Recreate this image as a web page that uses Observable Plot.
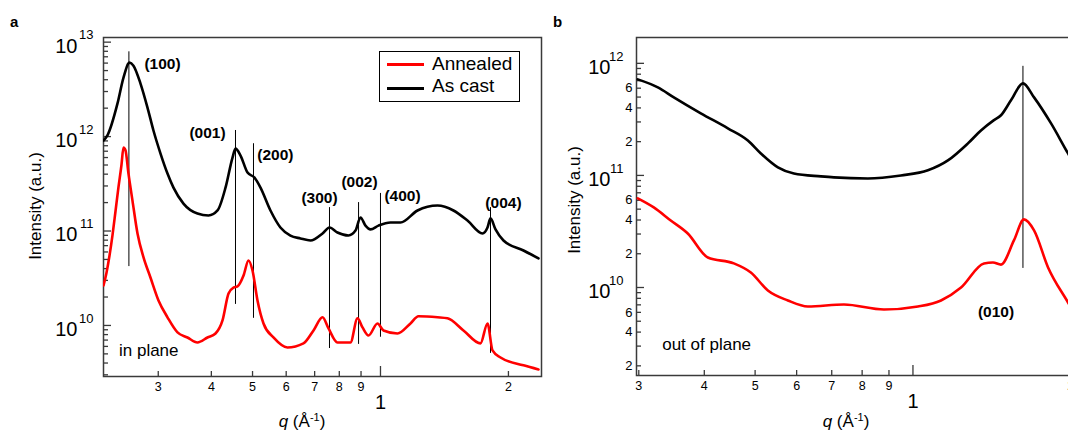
<!DOCTYPE html>
<html><head><meta charset="utf-8">
<script src="https://cdn.jsdelivr.net/npm/d3@7"></script>
<script src="https://cdn.jsdelivr.net/npm/@observablehq/plot@0.6"></script>
<style>
html,body{margin:0;padding:0;background:#fff;overflow:hidden}
#wrap{position:relative;width:1068px;height:433px;overflow:hidden;font-family:"Liberation Sans",Arial,sans-serif;color:#000;background:#fff}
#wrap svg{max-width:none !important}
.abs{position:absolute;white-space:nowrap}
.ylab{font-size:17px;transform:translate(-50%,-50%) rotate(-90deg)}
.xlab{font-size:17px;transform:translate(-50%,-50%)}
.xlab sup{font-size:11px;vertical-align:6px}
</style></head><body>
<div id="wrap">
  <div id="pa" class="abs" style="left:0;top:0;width:560px;height:433px"></div>
  <div id="pb" class="abs" style="left:560px;top:0;width:542px;height:433px"></div>
  <div class="abs" style="left:10px;top:13px;font-weight:bold;font-size:15px">a</div>
  <div class="abs" style="left:553px;top:13px;font-weight:bold;font-size:15px">b</div>
  <div class="abs ylab" style="left:36px;top:206px">Intensity (a.u.)</div>
  <div class="abs ylab" style="left:575px;top:200px">Intensity (a.u.)</div>
  <div class="abs xlab" style="left:302px;top:421px"><i>q</i> (Å<sup>-1</sup>)</div>
  <div class="abs xlab" style="left:846px;top:421px"><i>q</i> (Å<sup>-1</sup>)</div>
  <div class="abs" style="left:379px;top:51px;width:139px;height:49px;border:1px solid #000;background:#fff">
    <div class="abs" style="left:7px;top:11px;width:37px;height:3px;background:#ff0000"></div>
    <div class="abs" style="left:7px;top:35px;width:37px;height:3px;background:#000"></div>
    <div class="abs" id="leg1" style="left:52px;top:2px;font-size:19px;line-height:19px"></div>
    <div class="abs" id="leg2" style="left:52px;top:24px;font-size:19px;line-height:19px"></div>
  </div>
</div>
<script>
// ---------- data: panel a (in plane) ----------
const seriesNames = ["Annealed", "As cast"];
const seriesColors = ["#ff0000", "#000000"];

const asCastInPlaneQ = [0.2230,0.2278,0.2405,0.2485,0.2567,0.2623,0.2725,0.2830,0.2923,0.3037,0.3154,0.3258,0.3439,0.3710,0.3939,0.4136,0.4319,0.4486,0.4559,0.4685,0.4866,0.5053,0.5220,0.5510,0.5815,0.6139,0.6482,0.6844,0.7306,0.7586,0.7920,0.8409,0.8733,0.8974,0.9220,0.9473,0.9892,1.0557,1.1145,1.2221,1.3619,1.4849,1.6020,1.7378,1.7856,1.8150,1.8649,1.9473,2.1703,2.3541];
const asCastInPlaneI = [9.08e11,1.03e12,2.23e12,4.21e12,6.07e12,5.64e12,3.64e12,2.03e12,1.16e12,6.61e11,4.06e11,2.88e11,1.95e11,1.53e11,1.46e11,1.65e11,2.88e11,6.0e11,7.46e11,6.3e11,4.16e11,3.68e11,2.88e11,1.65e11,1.09e11,8.96e10,8.34e10,7.93e10,9.42e10,1.09e11,9.64e10,8.96e10,1.01e11,1.39e11,1.14e11,1.04e11,1.14e11,1.23e11,1.23e11,1.65e11,1.86e11,1.65e11,1.29e11,9.42e10,1.09e11,1.36e11,1.04e11,7.93e10,6.22e10,5.12e10];

const annealedInPlaneQ = [0.2230,0.2266,0.2304,0.2341,0.2379,0.2418,0.2458,0.2485,0.2512,0.2553,0.2609,0.2681,0.2770,0.2876,0.3004,0.3154,0.3330,0.3514,0.3710,0.3917,0.4091,0.4249,0.4390,0.4510,0.4609,0.4762,0.4892,0.4999,0.5136,0.5306,0.5600,0.6040,0.6588,0.6957,0.7306,0.7547,0.7920,0.8500,0.8829,0.9072,0.9371,0.9839,1.0164,1.0965,1.1765,1.2287,1.3619,1.4374,1.5677,1.7189,1.7856,1.8348,1.9159,2.1703,2.3541];
const annealedInPlaneI = [2.65e10,3.6e10,5.5e10,9.0e10,1.6e11,2.9e11,5.0e11,7.66e11,7.16e11,4.06e11,2.10e11,9.42e10,5.25e10,3.22e10,1.84e10,1.22e10,8.44e9,7.46e9,6.61e9,7.46e9,8.22e9,1.13e10,2.18e10,2.52e10,2.59e10,3.38e10,4.88e10,3.82e10,1.84e10,1.05e10,7.46e9,5.85e9,6.46e9,8.85e9,1.22e10,9.29e9,6.61e9,6.61e9,1.19e10,9.53e9,7.83e9,1.05e10,8.85e9,8.22e9,1.05e10,1.25e10,1.22e10,1.19e10,8.85e9,6.46e9,1.05e10,5.44e9,4.58e9,3.78e9,3.42e9];

const peakLabelsA = ["(100)","(001)","(200)","(300)","(002)","(400)","(004)"];
const peakQA      = [0.2559,0.4559,0.5026,0.7586,0.888,1.0,1.815];
const peakLowA    = [4.2e10,1.67e10,1.19e10,5.7e9,6.3e9,7.5e9,5.06e9];
const peakHighA   = [7.9e12,1.16e12,8.4e11,1.77e11,2.0e11,2.5e11,1.77e11];
const labelQA     = [0.307,0.3917,0.566,0.7186,0.8926,1.127,1.947];
const labelIA     = [5.92e12,1.10e12,6.3e11,2.21e11,3.34e11,2.32e11,2.0e11];

// ---------- data: panel b (out of plane) ----------
const asCastOutQ = [0.2987,0.3262,0.3499,0.3939,0.4436,0.4843,0.5128,0.5526,0.5929,0.6675,0.7066,0.8207,0.9486,1.068,1.166,1.273,1.348,1.425,1.472,1.538,1.621,1.702,1.834,1.976,2.093];
const asCastOutI = [7.19e11,6.1e11,4.97e11,3.58e11,2.63e11,2.05e11,1.57e11,1.18e11,1.04e11,9.8e10,9.6e10,9.4e10,1.0e11,1.11e11,1.36e11,1.93e11,2.52e11,3.1e11,3.44e11,4.68e11,6.63e11,4.97e11,2.91e11,1.57e11,1.0e11];

const annealedOutQ = [0.2987,0.3204,0.3452,0.372,0.4063,0.4554,0.4907,0.5288,0.5774,0.6302,0.7386,0.8805,1.022,1.131,1.235,1.366,1.421,1.472,1.558,1.628,1.702,1.81,1.976,2.093];
const annealedOutI = [6.24e10,5.18e10,3.96e10,3.03e10,1.85e10,1.64e10,1.36e10,9.4e9,7.66e9,6.77e9,7.05e9,6.36e9,6.77e9,7.66e9,1.0e10,1.64e10,1.67e10,1.6e10,2.63e10,4.05e10,3.23e10,1.51e10,7.35e9,4.6e9];

const peakLabelsB = ["(010)"];
const peakQB = [1.621], peakLowB = [1.48e10], peakHighB = [9.4e11];
const labelQB = [1.44], labelIB = [5.98e9];

// ---------- axes ----------
const xDomainA = [0.223, 2.3925], yDomainA = [2.88e9, 1.12e13];
const xDomainB = [0.297, 2.2],    yDomainB = [1.64e9, 1.7e12];
const xTicks = [0.3,0.4,0.5,0.6,0.7,0.8,0.9,2];
const xTickLabels = ["3","4","5","6","7","8","9","2"];
const xBigTick = [1], xBigTickLabel = ["1"];
const yMajA = [1e10,1e11,1e12,1e13], yMajB = [1e10,1e11,1e12];
const yMinorLabelMult = [2,4,6];

const font = '"Liberation Sans", Arial, sans-serif';
const toRows = (Q, I) => Q.map((q, i) => ({q, I: I[i]}));
const mant = v => Math.round(v / 10 ** Math.floor(Math.log10(v) + 1e-9));
const minors = (dom) => {
  const out = [];
  for (let d = 8; d <= 13; d++) for (let m = 2; m <= 9; m++) {
    const v = m * 10 ** d; if (v > dom[0] && v < dom[1]) out.push(v);
  }
  return out;
};
const exps = {1e10:"10",1e11:"11",1e12:"12",1e13:"13"};

function axisMarks(yMaj, yDom, minorLabels, bigDx, expDx) {
  const yMin = minors(yDom);
  const marks = [
    Plot.frame({stroke: "#3a3a3a", strokeWidth: 1.5}),
    Plot.axisY(yMaj, {anchor: "left", tickSize: -8, tickFormat: () => "", stroke: "#3a3a3a", strokeWidth: 1.3}),
    Plot.axisY(yMin, {anchor: "left", tickSize: -5, tickFormat: () => "", stroke: "#3a3a3a", strokeWidth: 1.3}),
    Plot.axisX(xTicks, {anchor: "bottom", tickSize: -5, tickFormat: () => "", stroke: "#3a3a3a", strokeWidth: 1.3}),
    Plot.axisX(xBigTick, {anchor: "bottom", tickSize: -10, tickFormat: () => "", stroke: "#3a3a3a", strokeWidth: 1.3}),
    Plot.text(xTicks, {x: d => d, text: (d, i) => xTickLabels[i], frameAnchor: "bottom", lineAnchor: "middle", dy: 10, fontSize: 12.5}),
    Plot.text(xBigTick, {x: d => d, text: (d, i) => xBigTickLabel[i], frameAnchor: "bottom", lineAnchor: "middle", dy: 26, fontSize: 20}),
    Plot.text(yMaj, {y: d => d, text: () => "10", frameAnchor: "left", textAnchor: "end", lineAnchor: "middle", dx: bigDx, dy: 4, fontSize: 20}),
    Plot.text(yMaj, {y: d => d, text: d => exps[d], frameAnchor: "left", textAnchor: "end", lineAnchor: "middle", dx: expDx, dy: -7, fontSize: 13})
  ];
  if (minorLabels) {
    const lab = yMin.filter(v => yMinorLabelMult.includes(mant(v)));
    marks.push(Plot.text(lab, {y: d => d, text: d => String(mant(d)), frameAnchor: "left", textAnchor: "end", lineAnchor: "middle", dx: -4, fontSize: 13}));
  }
  return marks;
}

const plotA = Plot.plot({
  width: 560, height: 433,
  marginLeft: 103, marginRight: 19, marginTop: 37, marginBottom: 57,
  x: {type: "log", domain: xDomainA, label: null},
  y: {type: "log", domain: yDomainA, label: null},
  style: {fontFamily: font, color: "#000", background: "transparent", overflow: "visible"},
  marks: [
    ...axisMarks(yMajA, yDomainA, false, -26, -10),
    Plot.ruleX(peakQA, {x: d => d, y1: (d, i) => peakLowA[i], y2: (d, i) => peakHighA[i], stroke: "#000", strokeWidth: 1}),
    Plot.line(toRows(annealedInPlaneQ, annealedInPlaneI), {x: "q", y: "I", stroke: seriesColors[0], strokeWidth: 2.6, curve: "monotone-x", clip: true}),
    Plot.line(toRows(asCastInPlaneQ, asCastInPlaneI), {x: "q", y: "I", stroke: seriesColors[1], strokeWidth: 2.6, curve: "monotone-x", clip: true}),
    Plot.text(peakLabelsA, {x: (d, i) => labelQA[i], y: (d, i) => labelIA[i], text: d => d, fontWeight: "bold", fontSize: 15.5, textAnchor: "middle", lineAnchor: "middle"}),
    Plot.text(["in plane"], {x: [0.2425], y: [5.4e9], text: d => d, textAnchor: "start", lineAnchor: "middle", fontSize: 17})
  ]
});
document.getElementById("pa").appendChild(plotA);

const plotB = Plot.plot({
  width: 542, height: 433,
  marginLeft: 76, marginRight: 10, marginTop: 37, marginBottom: 58,
  x: {type: "log", domain: xDomainB, label: null},
  y: {type: "log", domain: yDomainB, label: null},
  style: {fontFamily: font, color: "#000", background: "transparent", overflow: "visible"},
  marks: [
    ...axisMarks(yMajB, yDomainB, true, -26, -13),
    Plot.ruleX(peakQB, {x: d => d, y1: (d, i) => peakLowB[i], y2: (d, i) => peakHighB[i], stroke: "#000", strokeWidth: 1}),
    Plot.line(toRows(annealedOutQ, annealedOutI), {x: "q", y: "I", stroke: seriesColors[0], strokeWidth: 2.6, curve: "monotone-x", clip: true}),
    Plot.line(toRows(asCastOutQ, asCastOutI), {x: "q", y: "I", stroke: seriesColors[1], strokeWidth: 2.6, curve: "monotone-x", clip: true}),
    Plot.text(peakLabelsB, {x: (d, i) => labelQB[i], y: (d, i) => labelIB[i], text: d => d, fontWeight: "bold", fontSize: 15.5, textAnchor: "middle", lineAnchor: "middle"}),
    Plot.text(["out of plane"], {x: [0.3325], y: [3.1e9], text: d => d, textAnchor: "start", lineAnchor: "middle", fontSize: 17})
  ]
});
document.getElementById("pb").appendChild(plotB);

document.getElementById("leg1").textContent = seriesNames[0];
document.getElementById("leg2").textContent = seriesNames[1];
</script>
</body></html>
